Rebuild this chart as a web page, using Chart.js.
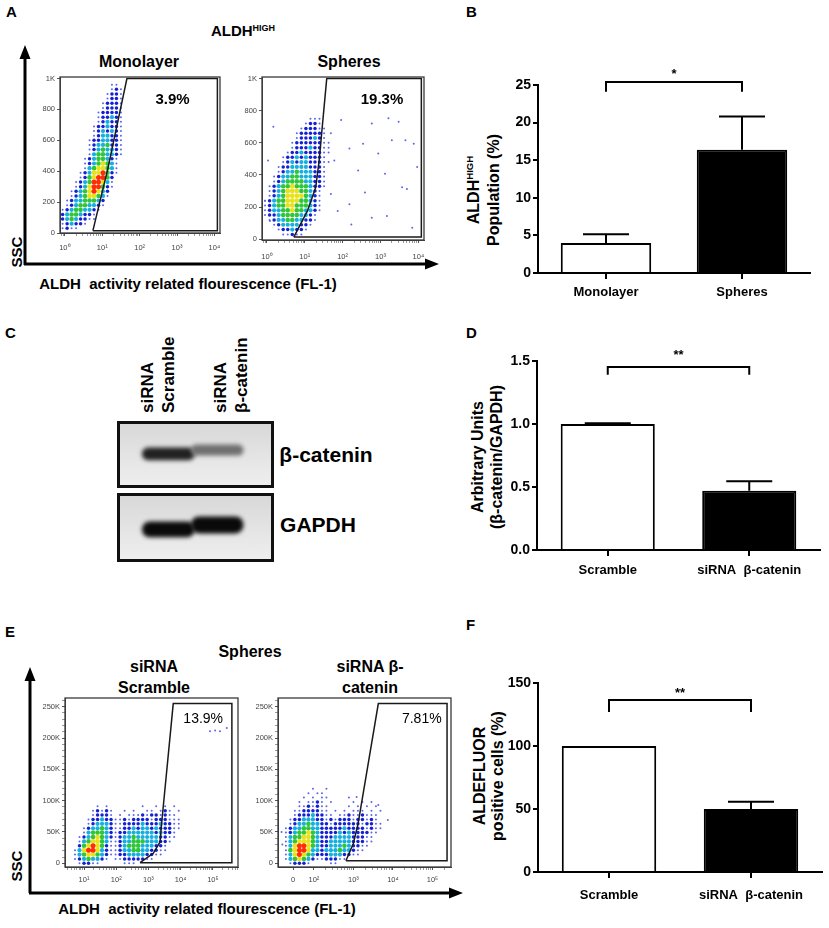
<!DOCTYPE html>
<html>
<head>
<meta charset="utf-8">
<script src="https://cdn.jsdelivr.net/npm/chart.js"></script>
<style>
  html, body { margin: 0; padding: 0; background: #fff; }
  body { width: 829px; height: 928px; position: relative; overflow: hidden;
         font-family: "Liberation Sans", Arial, sans-serif; color: #000; }
  .pane { position: absolute; }
  .L { position: absolute; font-weight: bold; font-size: 15px; line-height: 1; }
  .c { position: absolute; transform: translate(-50%, -50%); font-weight: bold;
       white-space: nowrap; text-align: center; line-height: 1.2; }
  .r { transform: translate(-50%, -50%) rotate(-90deg); }
  .blot { position: absolute; box-sizing: border-box; border: 3px solid #111;
          background: linear-gradient(#d8d8d8, #e8e8e8 70%, #eeeeee); }
  sup { font-size: 0.6em; vertical-align: baseline; position: relative; top: -0.6em; }
  svg.ax { position: absolute; left: 0; top: 0; }
</style>
</head>
<body>

<svg class="ax" width="829" height="928">
  <path d="M25 265 V56 M24 264 H428 M30 893 V680 M29 893 H451" stroke="#000" stroke-width="3" fill="none"/>
  <path d="M25 45 L19.5 59 L30.5 59 Z M439 264 L425 258.5 L425 269.5 Z M30 667 L24.5 681 L35.5 681 Z M463 893 L449 887.5 L449 898.5 Z" fill="#000"/>
</svg>

<div class="L" style="left:6px;top:4px">A</div>
<div class="L" style="left:466px;top:4px">B</div>
<div class="L" style="left:5px;top:325px">C</div>
<div class="L" style="left:466px;top:325px">D</div>
<div class="L" style="left:5px;top:624px">E</div>
<div class="L" style="left:466px;top:617px">F</div>

<div class="c" style="left:243px;top:31px;font-size:15px">ALDH<sup>HIGH</sup></div>
<div class="c" style="left:139px;top:62px;font-size:16px">Monolayer</div>
<div class="c" style="left:349px;top:62px;font-size:16px">Spheres</div>
<div class="c r" style="left:17px;top:252px;font-size:15px">SSC</div>
<div class="c" style="left:188px;top:284px;font-size:15px">ALDH&nbsp; activity related flourescence (FL-1)</div>

<div class="c r" style="left:484px;top:190px;font-size:16px;line-height:18px">ALDH<sup>HIGH</sup><br>Population (%)</div>

<div class="c r" style="left:158px;top:368px;width:90px;text-align:left;font-size:17px;line-height:21px">siRNA<br>Scramble</div>
<div class="c r" style="left:231px;top:368px;width:90px;text-align:left;font-size:17px;line-height:21px">siRNA<br>β-catenin</div>
<div class="c" style="left:326px;top:455px;font-size:21px">β-catenin</div>
<div class="c" style="left:318px;top:525px;font-size:21px">GAPDH</div>

<div class="c r" style="left:487px;top:457px;font-size:16px;line-height:19px">Arbitrary Units<br>(β-catenin/GAPDH)</div>

<div class="c" style="left:250px;top:652px;font-size:16px">Spheres</div>
<div class="c" style="left:154px;top:677px;font-size:16px;line-height:21px">siRNA<br>Scramble</div>
<div class="c" style="left:370px;top:677px;font-size:16px;line-height:21px">siRNA β-<br>catenin</div>
<div class="c r" style="left:17px;top:866px;font-size:15px">SSC</div>
<div class="c" style="left:207px;top:909px;font-size:15px">ALDH&nbsp; activity related flourescence (FL-1)</div>

<div class="c r" style="left:489px;top:776px;font-size:16px;line-height:18px">ALDEFLUOR<br>positive cells (%)</div>

<div class="pane" style="left:30px;top:70px;width:195px;height:185px"><canvas id="monoChart"></canvas></div>
<div class="pane" style="left:232px;top:70px;width:197px;height:195px"><canvas id="sphChart"></canvas></div>
<div class="pane" style="left:440px;top:50px;width:385px;height:265px"><canvas id="bChart"></canvas></div>
<div class="blot" style="left:117px;top:421px;width:157px;height:67px"><canvas id="blotCatenin"></canvas></div>
<div class="blot" style="left:117px;top:493px;width:157px;height:69px"><canvas id="blotGapdh"></canvas></div>
<div class="pane" style="left:440px;top:325px;width:385px;height:265px"><canvas id="dChart"></canvas></div>
<div class="pane" style="left:30px;top:690px;width:213px;height:200px"><canvas id="scrChart"></canvas></div>
<div class="pane" style="left:243px;top:690px;width:213px;height:200px"><canvas id="betaChart"></canvas></div>
<div class="pane" style="left:440px;top:645px;width:385px;height:275px"><canvas id="fChart"></canvas></div>

<script>
/* global Chart */
const FONT = '"Liberation Sans", Arial, sans-serif';
Chart.defaults.font.family = FONT;

// ---------- A: flow plots, density (rows top -> bottom) ----------
// cell = [x of first column (log decade), column step, y of first row, row step]
const monoRows = [
  "...........11.", "...........121", "..........1221", "..........1221",
  ".........12221", ".........12221", "........122221", "........122321",
  "........123221", ".......1223221", ".......1232321", ".......1233221",
  "......12233221", "......12334221", "......12343321", "......13443321",
  ".....12344321.", ".....12345431.", ".....13455431.", "....123556421.",
  "....12456642..", "...123466531..", "...123566421..", "..123456532...",
  "..123455431...", ".123344432....", ".123443321....", "123443321.....",
  "23443221......", "23432211......", "123221........", "1211..........",
];
const monoCell = [-0.06, 0.12, 960, 30];
const monoGate = [[0.75, 15], [1.15, 417], [1.66, 1000], [4.08, 1000], [4.08, 15], [0.75, 15]];
const monoPct = ["3.9%", 2.88, 865];

const sphRows = [
  "..........111..", ".........1221..", "........122211.", ".......1222221.",
  ".......1222321.", "......122222211", "......122232211", ".....1223222211",
  "....1223232221.", "....12323322211", "...12233332221.", "...12334333221.",
  "..123344333221.", "..123444433221.", ".1234454443221.", ".123455544321..",
  ".123455554321..", "1234455544321..", "1234455444321..", "1233445443321..",
  "122344443321...", ".12334433221...", "..123333221....", "...1223221.....",
  "....11211......",
];
const sphCell = [-0.05, 0.12, 750, 30];
const sphSparse = [
  [0.17, 700], [0.03, 490], [-0.05, 239], [0.08, 113], [1.96, 742], [2.18, 564],
  [2.54, 595], [2.77, 721], [3.21, 753], [3.48, 731], [3.66, 616], [3.88, 595],
  [3.97, 449], [3.17, 145], [2.77, 134], [2.23, 92], [2.18, 218], [2.59, 291],
  [3.57, 323], [3.70, 312], [3.84, 71], [3.12, 407], [2.94, 533], [1.78, 490],
  [1.69, 281], [1.87, 176], [2.41, 428], [1.69, 660], [3.30, 616],
];
const sphGate = [[0.71, 13], [1.07, 176], [1.29, 323], [1.38, 490], [1.58, 1000],
                 [4.08, 1000], [4.08, 13], [0.71, 13]];
const sphPct = ["19.3%", 3.04, 865];

const aDecades = [0, 1, 2, 3, 4];
const aDecadeLabels = ["10⁰", "10¹", "10²", "10³", "10⁴"];
const aSscTicks = [0, 200, 400, 600, 800, 1000];
const aSscLabels = ["0", "200", "400", "600", "800", "1K"];

// ---------- B ----------
const bLabels = ["Monolayer", "Spheres"];
const bMeans = [4.0, 16.4];
const bErrTop = [5.15, 20.8];
const bTicks = [0, 5, 10, 15, 20, 25];
const bTickLabels = ["0", "5", "10", "15", "20", "25"];
const bSignif = [25.4, 24.1, "*", 26.4];

// ---------- C: western blot ----------
const blotLanes = [0.23, 0.715];
const cateninBands = [[0.41, 0.61], [0.49, 0.66]];
const cateninIntensity = [0.9, 0.55];
const gapdhBands = [[0.35, 0.59], [0.41, 0.67]];
const gapdhIntensity = [1, 1];

// ---------- D ----------
const dLabels = ["Scramble", "siRNA  β-catenin"];
const dMeans = [1.0, 0.47];
const dErrTop = [1.006, 0.545];
const dTicks = [0, 0.5, 1.0, 1.5];
const dTickLabels = ["0.0", "0.5", "1.0", "1.5"];
const dSignif = [1.452, 1.39, "**", 1.545];

// ---------- E: flow plots ----------
const scrRows = [
  ".....1.1.......1..1.1.1..", "....12121..1.1..11.121.1.",
  "....12221.1.11121221211..", "...122322112122221222111.",
  "...123332112222322232211.", "..1233432112232332322211.",
  "..134443212233333323221..", ".1234543212334333332211..",
  ".134554311233444333221...", ".24565421123444333221....",
  "135665321123344332211....", "13455432112233332211.....",
  "12343321.112222211.......", ".12211.....111...........",
];
const scrCell = [0.72, 0.14, 91, 7];
const scrSparse = [[4.91, 211], [5.07, 212], [5.22, 211], [5.43, 216]];
const scrGate = [[2.74, 1], [3.15, 16], [3.36, 34], [3.41, 64], [3.77, 255],
                 [5.59, 255], [5.59, 1], [2.74, 1]];
const scrPct = ["13.9%", 4.70, 230];

const betaRows = [
  "......1..1..............", ".....1.11...............",
  "....1.1.11....1.........", "...1.1121.1....1.1.1....",
  "...1121211....1.1.1.1...", "..11222211.1.1.111.1.1..",
  "..122232211.112112111...", ".12233322121222122121...",
  ".123343322122222212211..", "1233443322222322221211..",
  "123445432222323222211...", "13445543222333322211....",
  "13455543223333322211....", "1356654322333432211.....",
  "145665332333433211......", "13565432223332211.......",
  "13454321122211..........", ".12221....11............",
];
const betaCell = [1.29, 0.114, 119, 7];
const betaSparse = [[1.2, 30], [1.18, 50], [3.87, 69], [3.63, 93], [3.08, 106]];
const betaGate = [[2.81, 4], [3.0, 32], [3.12, 64], [3.63, 255], [5.37, 255], [5.37, 4], [2.81, 4]];
const betaPct = ["7.81%", 4.73, 230];

const scrDecades = [1, 2, 3, 4, 5];
const scrDecadeLabels = ["10¹", "10²", "10³", "10⁴", "10⁵"];
const betaDecades = [1.47, 2, 3, 4, 5];
const betaDecadeLabels = ["0", "10²", "10³", "10⁴", "10⁵"];
const eSscTicks = [0, 50, 100, 150, 200, 250];
const eSscLabels = ["0", "50K", "100K", "150K", "200K", "250K"];

// ---------- F ----------
const fLabels = ["Scramble", "siRNA  β-catenin"];
const fMeans = [100, 50];
const fErrTop = [100, 55.8];
const fTicks = [0, 50, 100, 150];
const fTickLabels = ["0", "50", "100", "150"];
const fSignif = [136.5, 127, "**", 142];

// ---------------------------------------------------------------------------
const LEVEL_COLORS = ["#5a66ec", "#1420d8", "#16b0e0", "#30c63c", "#e8e21a", "#ff2c0a"];
const LEVEL_RADIUS = [1.0, 1.75, 2.1, 2.3, 2.4, 2.5];

function gridPoints(rows, cell, level) {
  var pts = [];
  rows.forEach(function (row, r) {
    for (var c = 0; c < row.length; c++) {
      if (row[c] === String(level)) {
        pts.push({ x: cell[0] + c * cell[1], y: cell[2] - r * cell[3] });
      }
    }
  });
  return pts;
}

function logMinors(from, to, lo, hi) {
  var out = [];
  for (var d = from; d <= to; d++) {
    for (var k = 2; k <= 9; k++) {
      var v = d + Math.log10(k);
      if (v > lo && v < hi) out.push(v);
    }
  }
  return out;
}

function evenMinors(step, lo, hi, skip) {
  var out = [];
  for (var v = lo; v <= hi; v += step) {
    if (v % skip !== 0) out.push(v);
  }
  return out;
}

function flowAxis(axis, min, max, major, labels, minor, fit, pad) {
  var values = major.concat(minor);
  var text = labels.concat(minor.map(function () { return ""; }));
  return {
    type: "linear",
    min: min,
    max: max,
    afterBuildTicks: function (scale) {
      scale.ticks = values.map(function (v) { return { value: v }; });
    },
    afterFit: function (scale) {
      if (axis === "x") scale.height = fit;
      else scale.width = fit;
    },
    border: { color: "#444", width: 1 },
    grid: {
      drawOnChartArea: false,
      tickLength: 3,
      color: "#555",
      lineWidth: function (c) { return c.index < major.length ? 1 : 0.6; },
    },
    ticks: {
      autoSkip: false,
      maxRotation: 0,
      padding: pad,
      color: "#444",
      font: { size: 7.5 },
      callback: function (v, i) { return text[i]; },
    },
  };
}

const framePlugin = {
  id: "frame",
  afterDatasetsDraw: function (chart) {
    var a = chart.chartArea;
    var ctx = chart.ctx;
    ctx.save();
    ctx.strokeStyle = "#3a3a3a";
    ctx.lineWidth = 1.3;
    ctx.strokeRect(a.left, a.top, a.right - a.left, a.bottom - a.top);
    ctx.restore();
  },
};

function textAt(label, font) {
  return {
    id: "textAt",
    afterDatasetsDraw: function (chart) {
      var ctx = chart.ctx;
      ctx.save();
      ctx.font = font;
      ctx.fillStyle = "#000";
      ctx.textAlign = "center";
      ctx.textBaseline = "middle";
      ctx.fillText(label[0], chart.scales.x.getPixelForValue(label[1]),
        chart.scales.y.getPixelForValue(label[2]));
      ctx.restore();
    },
  };
}

function flowChart(id, p) {
  var datasets = [];
  for (var lvl = 1; lvl <= 6; lvl++) {
    var pts = gridPoints(p.rows, p.cell, lvl);
    if (lvl === 1 && p.sparse) {
      pts = pts.concat(p.sparse.map(function (s) { return { x: s[0], y: s[1] }; }));
    }
    datasets.push({
      data: pts,
      pointRadius: LEVEL_RADIUS[lvl - 1],
      pointBackgroundColor: LEVEL_COLORS[lvl - 1],
      pointBorderWidth: 0,
      order: 10 - lvl,
    });
  }
  datasets.push({
    data: p.gate.map(function (g) { return { x: g[0], y: g[1] }; }),
    showLine: true,
    borderColor: "#1a1a1a",
    borderWidth: 1.5,
    pointRadius: 0,
    order: 0,
  });

  return new Chart(document.getElementById(id), {
    type: "scatter",
    data: { datasets: datasets },
    options: {
      responsive: true,
      maintainAspectRatio: false,
      animation: false,
      layout: { padding: { top: p.padTop, right: 5, left: 0, bottom: 0 } },
      plugins: { legend: { display: false }, tooltip: { enabled: false } },
      scales: {
        x: flowAxis("x", p.x[0], p.x[1], p.xMajor, p.xLabels, p.xMinor, p.xFit, p.xPad),
        y: flowAxis("y", p.y[0], p.y[1], p.yMajor, p.yLabels, p.yMinor, p.yFit, 2),
      },
    },
    plugins: [framePlugin, textAt(p.pct, p.pctFont)],
  });
}

function errorBars(means, tops, cap) {
  return {
    id: "errorBars",
    afterDatasetsDraw: function (chart) {
      var meta = chart.getDatasetMeta(0);
      var y = chart.scales.y;
      var ctx = chart.ctx;
      ctx.save();
      ctx.strokeStyle = "#000";
      ctx.lineWidth = 2;
      tops.forEach(function (top, i) {
        if (top <= means[i]) return;
        var bar = meta.data[i];
        var yTop = y.getPixelForValue(top);
        ctx.beginPath();
        ctx.moveTo(bar.x, y.getPixelForValue(means[i]));
        ctx.lineTo(bar.x, yTop);
        ctx.moveTo(bar.x - cap, yTop);
        ctx.lineTo(bar.x + cap, yTop);
        ctx.stroke();
      });
      ctx.restore();
    },
  };
}

function bracket(b) {
  return {
    id: "bracket",
    afterDatasetsDraw: function (chart) {
      var meta = chart.getDatasetMeta(0);
      var y = chart.scales.y;
      var ctx = chart.ctx;
      var x0 = meta.data[0].x;
      var x1 = meta.data[1].x;
      var yl = y.getPixelForValue(b[0]);
      var yg = y.getPixelForValue(b[1]);
      ctx.save();
      ctx.strokeStyle = "#000";
      ctx.lineWidth = 2;
      ctx.beginPath();
      ctx.moveTo(x0, yg);
      ctx.lineTo(x0, yl);
      ctx.lineTo(x1, yl);
      ctx.lineTo(x1, yg);
      ctx.stroke();
      ctx.font = "bold 13px " + FONT;
      ctx.fillStyle = "#000";
      ctx.textAlign = "center";
      ctx.textBaseline = "middle";
      ctx.fillText(b[2], (x0 + x1) / 2, y.getPixelForValue(b[3]));
      ctx.restore();
    },
  };
}

function barChart(id, p) {
  return new Chart(document.getElementById(id), {
    type: "bar",
    data: {
      labels: p.labels,
      datasets: [{
        data: p.means,
        backgroundColor: ["#ffffff", "#000000"],
        borderColor: "#000",
        borderWidth: 2,
        barPercentage: 0.665,
        categoryPercentage: 1,
      }],
    },
    options: {
      responsive: true,
      maintainAspectRatio: false,
      animation: false,
      layout: { padding: { top: p.padTop, right: p.padRight, left: 0, bottom: 0 } },
      plugins: { legend: { display: false }, tooltip: { enabled: false } },
      scales: {
        x: {
          grid: { offset: false, drawOnChartArea: false, tickLength: 6, color: "#000", lineWidth: 2 },
          border: { color: "#000", width: 2 },
          ticks: { color: "#000", padding: p.xPad, font: { size: 13, weight: "bold" } },
          afterFit: function (s) { s.height = p.xFit; },
        },
        y: {
          min: 0,
          max: p.ticks[p.ticks.length - 1],
          afterBuildTicks: function (scale) {
            scale.ticks = p.ticks.map(function (v) { return { value: v }; });
          },
          grid: { drawOnChartArea: false, tickLength: 5, color: "#000", lineWidth: 2 },
          border: { color: "#000", width: 2 },
          ticks: {
            color: "#000",
            padding: 2,
            font: { size: 14, weight: "bold" },
            callback: function (v, i) { return p.tickLabels[i]; },
          },
          afterFit: function (s) { s.width = p.yFit; },
        },
      },
    },
    plugins: [errorBars(p.means, p.errTop, 23), bracket(p.signif)],
  });
}

const blurPlugin = {
  id: "blur",
  beforeDatasetsDraw: function (chart) {
    chart.ctx.save();
    chart.ctx.filter = "blur(2.2px)";
  },
  afterDatasetsDraw: function (chart) {
    chart.ctx.restore();
  },
};

function blotChart(id, bands, intensity) {
  return new Chart(document.getElementById(id), {
    type: "bar",
    data: {
      datasets: [{
        data: blotLanes.map(function (x, i) { return { x: x, y: bands[i] }; }),
        backgroundColor: intensity.map(function (v) {
          var g = Math.round(235 - 225 * v);
          return "rgb(" + g + "," + g + "," + g + ")";
        }),
        borderWidth: 0,
        borderSkipped: false,
        borderRadius: 9,
        barThickness: 52,
      }],
    },
    options: {
      responsive: true,
      maintainAspectRatio: false,
      animation: false,
      layout: { padding: 0 },
      plugins: { legend: { display: false }, tooltip: { enabled: false } },
      scales: {
        x: { type: "linear", min: 0, max: 1, display: false },
        y: { min: 0, max: 1, display: false },
      },
    },
    plugins: [blurPlugin],
  });
}

// ---------------------------------------------------------------------------
flowChart("monoChart", {
  rows: monoRows, cell: monoCell, gate: monoGate, pct: monoPct, pctFont: "bold 15px " + FONT,
  x: [-0.13, 4.15], xMajor: aDecades, xLabels: aDecadeLabels, xMinor: logMinors(-1, 3, -0.13, 4.15),
  xFit: 22, xPad: 7,
  y: [0, 1010], yMajor: aSscTicks, yLabels: aSscLabels, yMinor: [], yFit: 30, padTop: 7,
});

flowChart("sphChart", {
  rows: sphRows, cell: sphCell, sparse: sphSparse, gate: sphGate, pct: sphPct,
  pctFont: "bold 15px " + FONT,
  x: [-0.13, 4.15], xMajor: aDecades, xLabels: aDecadeLabels, xMinor: logMinors(-1, 3, -0.13, 4.15),
  xFit: 25, xPad: 9,
  y: [-5, 1010], yMajor: aSscTicks, yLabels: aSscLabels, yMinor: [], yFit: 30, padTop: 7,
});

flowChart("scrChart", {
  rows: scrRows, cell: scrCell, sparse: scrSparse, gate: scrGate, pct: scrPct,
  pctFont: "14px " + FONT,
  x: [0.41, 5.78], xMajor: scrDecades, xLabels: scrDecadeLabels, xMinor: logMinors(0, 5, 0.41, 5.78),
  xFit: 23, xPad: 5,
  y: [-5.9, 263.9], yMajor: eSscTicks, yLabels: eSscLabels, yMinor: evenMinors(10, 10, 260, 50),
  yFit: 35, padTop: 8,
});

flowChart("betaChart", {
  rows: betaRows, cell: betaCell, sparse: betaSparse, gate: betaGate, pct: betaPct,
  pctFont: "14px " + FONT,
  x: [1.09, 5.47], xMajor: betaDecades, xLabels: betaDecadeLabels, xMinor: logMinors(2, 5, 1.09, 5.47),
  xFit: 23, xPad: 5,
  y: [-5.9, 263.9], yMajor: eSscTicks, yLabels: eSscLabels, yMinor: evenMinors(10, 10, 260, 50),
  yFit: 35, padTop: 8,
});

barChart("bChart", {
  labels: bLabels, means: bMeans, errTop: bErrTop, ticks: bTicks, tickLabels: bTickLabels,
  signif: bSignif, padTop: 35, padRight: 15, yFit: 98, xFit: 42, xPad: 6,
});

barChart("dChart", {
  labels: dLabels, means: dMeans, errTop: dErrTop, ticks: dTicks, tickLabels: dTickLabels,
  signif: dSignif, padTop: 36, padRight: 5, yFit: 97, xFit: 40, xPad: 7,
});

barChart("fChart", {
  labels: fLabels, means: fMeans, errTop: fErrTop, ticks: fTicks, tickLabels: fTickLabels,
  signif: fSignif, padTop: 38, padRight: 3, yFit: 98, xFit: 48, xPad: 10,
});

blotChart("blotCatenin", cateninBands, cateninIntensity);
blotChart("blotGapdh", gapdhBands, gapdhIntensity);
</script>
</body>
</html>
